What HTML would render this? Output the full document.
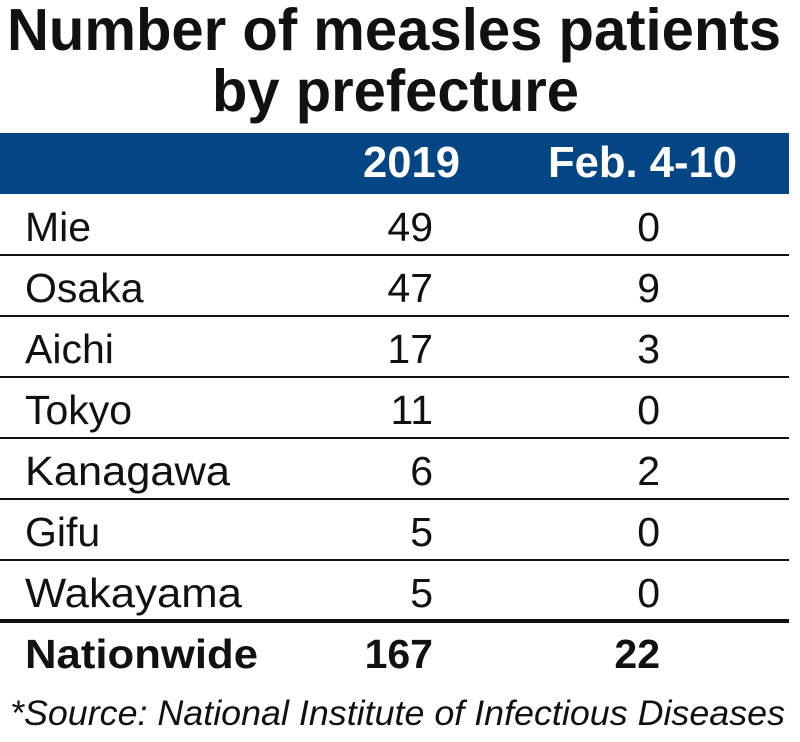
<!DOCTYPE html>
<html><head><meta charset="utf-8"><style>html,body{margin:0;padding:0;background:#fff}svg{display:block}</style></head>
<body>
<svg width="800" height="742" viewBox="0 0 800 742" xmlns="http://www.w3.org/2000/svg" font-family="Liberation Sans, Arial, sans-serif">
<rect width="800" height="742" fill="#fff"/>
<g font-weight="bold" fill="#111" font-size="59">
<text x="7" y="50" textLength="774" lengthAdjust="spacingAndGlyphs">Number of measles patients</text>
<text x="212" y="111" textLength="367" lengthAdjust="spacingAndGlyphs">by prefecture</text>
</g>
<rect x="0" y="133" width="789" height="61" fill="#034585"/>
<g font-weight="bold" fill="#fff" font-size="44">
<text x="363" y="177" textLength="97" lengthAdjust="spacingAndGlyphs">2019</text>
<text x="548" y="177" textLength="189" lengthAdjust="spacingAndGlyphs">Feb. 4-10</text>
</g>
<g stroke="#111" stroke-width="2">
<line x1="0" y1="255" x2="789" y2="255"/>
<line x1="0" y1="316" x2="789" y2="316"/>
<line x1="0" y1="377" x2="789" y2="377"/>
<line x1="0" y1="438" x2="789" y2="438"/>
<line x1="0" y1="499" x2="789" y2="499"/>
<line x1="0" y1="560" x2="789" y2="560"/>
</g>
<line x1="0" y1="621" x2="789" y2="621" stroke="#111" stroke-width="4"/>
<g fill="#111" font-size="41">
<text x="25" y="241">Mie</text>
<text x="25" y="302">Osaka</text>
<text x="25" y="363">Aichi</text>
<text x="25" y="424">Tokyo</text>
<text x="25" y="485" textLength="205" lengthAdjust="spacingAndGlyphs">Kanagawa</text>
<text x="25" y="546">Gifu</text>
<text x="25" y="607" textLength="217" lengthAdjust="spacingAndGlyphs">Wakayama</text>
</g>
<g fill="#111" font-size="41" text-anchor="end">
<text x="433" y="241">49</text><text x="660" y="241">0</text>
<text x="433" y="302">47</text><text x="660" y="302">9</text>
<text x="433" y="363">17</text><text x="660" y="363">3</text>
<text x="433" y="424">11</text><text x="660" y="424">0</text>
<text x="433" y="485">6</text><text x="660" y="485">2</text>
<text x="433" y="546">5</text><text x="660" y="546">0</text>
<text x="433" y="607">5</text><text x="660" y="607">0</text>
</g>
<g fill="#111" font-size="41" font-weight="bold">
<text x="25" y="668" textLength="233" lengthAdjust="spacingAndGlyphs">Nationwide</text>
<text x="433" y="668" text-anchor="end">167</text>
<text x="660" y="668" text-anchor="end">22</text>
</g>
<text x="10" y="725" fill="#111" font-size="35" font-style="italic" textLength="775" lengthAdjust="spacingAndGlyphs">*Source: National Institute of Infectious Diseases</text>
</svg>
</body></html>
